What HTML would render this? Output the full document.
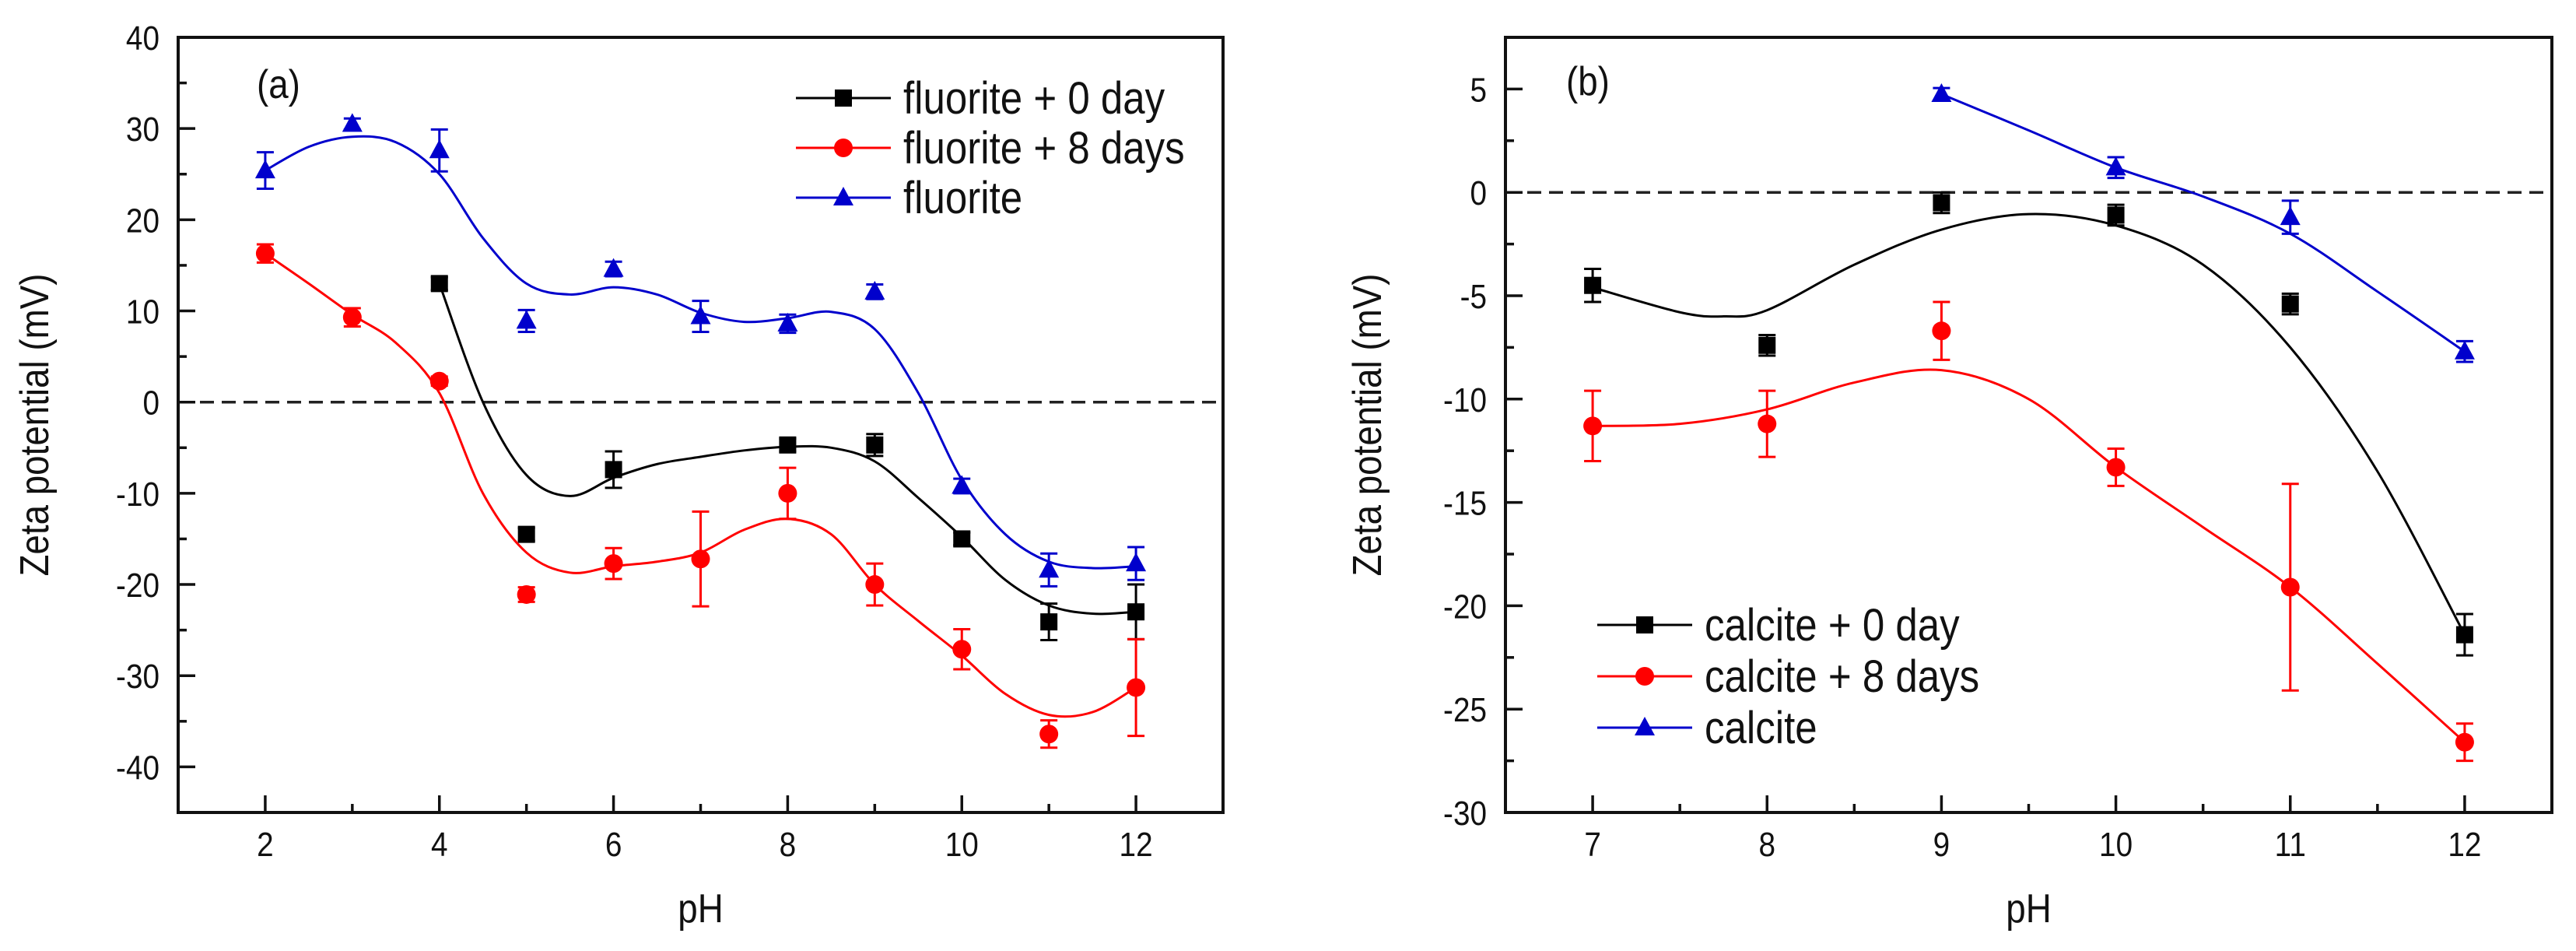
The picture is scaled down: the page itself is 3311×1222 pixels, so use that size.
<!DOCTYPE html>
<html><head><meta charset="utf-8"><style>
html,body{margin:0;padding:0;background:#fff;}
svg{display:block;font-family:"Liberation Sans",Arial,sans-serif;}
</style></head><body>
<svg id="fig" width="3311" height="1222" viewBox="0 0 3311 1222" xmlns="http://www.w3.org/2000/svg"></svg>
<script>
// ---------- Panel (a) data ----------
const aPH = [2,3,4,5,6,7,8,9,10,11,12];
const aBlack = [null,null,13.0,-14.5,-7.4,null,-4.7,-4.7,-15.0,-24.1,-23.0];
const aBlackErr = [0,0,0.7,0.7,2.0,0,0.7,1.2,0.7,2.0,3.0];
const aRed = [16.3,9.3,2.3,-21.1,-17.7,-17.2,-10.0,-20.0,-27.1,-36.4,-31.3];
const aRedErr = [1.0,1.0,0.5,0.8,1.7,5.2,2.8,2.3,2.2,1.5,5.3];
const aBlue = [25.4,30.5,27.6,8.9,14.6,9.4,8.6,12.1,-9.2,-18.4,-17.7];
const aBlueErr = [2.0,0.6,2.3,1.2,0.8,1.7,1.0,0.8,0.8,1.8,1.8];
const aFitX = [2,2.5,3,3.5,4,4.5,5,5.5,6,6.5,7,7.5,8,8.5,9,9.5,10,10.5,11,11.5,12];
const aFitBlue = [25.4,28,29.1,28.5,25,18,13,11.8,12.6,11.8,9.8,8.8,9.2,9.9,8,1,-8.5,-14.5,-17.5,-18.2,-18];
const aFitRed = [16.3,13,9.6,6.5,1,-10,-16.5,-18.7,-18,-17.5,-16.5,-14,-12.8,-14.5,-20,-24,-27.8,-32,-34.3,-34,-31.3];
const aFitBlackX = [4,4.5,5,5.5,6,6.5,7,7.5,8,8.5,9,9.5,10,10.5,11,11.5,12];
const aFitBlack = [13,0,-8,-10.3,-8.3,-6.8,-6,-5.3,-4.9,-5,-6.5,-10.5,-14.8,-19.5,-22.3,-23.2,-23];
const aXTicks = [2,4,6,8,10,12];
const aYTicks = [40,30,20,10,0,-10,-20,-30,-40];
// ---------- Panel (b) data ----------
const bPH = [7,8,9,10,11,12];
const bBlack = [-4.5,-7.4,-0.5,-1.1,-5.4,-21.4];
const bBlackErr = [0.8,0.5,0.5,0.5,0.5,1.0];
const bRed = [-11.3,-11.2,-6.7,-13.3,-19.1,-26.6];
const bRedErr = [1.7,1.6,1.4,0.9,5.0,0.9];
const bBlue = [null,null,4.75,1.2,-1.2,-7.7];
const bBlueErr = [0,0,0.3,0.5,0.8,0.5];
const bFitBlackX = [7,7.5,7.75,8,8.5,9,9.5,10,10.5,11,11.5,12];
const bFitBlack = [-4.6,-5.8,-6,-5.7,-3.5,-1.8,-1.05,-1.6,-3.5,-7.5,-13.5,-21.4];
const bFitRedX = [7,7.5,8,8.5,9,9.5,10,10.5,11,11.5,12];
const bFitRed = [-11.3,-11.2,-10.5,-9.2,-8.6,-10,-13.3,-16.2,-19.1,-22.8,-26.6];
const bFitBlueX = [9,9.5,10,10.5,11,11.5,12];
const bFitBlue = [4.75,3.0,1.2,-0.2,-2.0,-4.8,-7.7];
const bXTicks = [7,8,9,10,11,12];
const bYTicks = [5,0,-5,-10,-15,-20,-25,-30];

const NS = "http://www.w3.org/2000/svg";
const svg = document.getElementById('fig');
function el(tag, attrs, parent){
  const e = document.createElementNS(NS, tag);
  for (const k in attrs) e.setAttribute(k, attrs[k]);
  (parent||svg).appendChild(e);
  return e;
}
function txt(parent, x, y, s, size, anchor, rot){
  const t = el('text', {x:0, y:0, 'font-size':size, 'text-anchor':anchor||'middle', fill:'#111',
    transform:`translate(${x},${y}) ${rot?'rotate('+rot+')':''} scale(0.88,1)`}, parent);
  t.textContent = s;
  return t;
}
function catmull(pts){
  let d = `M${pts[0][0]},${pts[0][1]}`;
  for (let i=0;i<pts.length-1;i++){
    const p0 = pts[i-1]||pts[i], p1 = pts[i], p2 = pts[i+1], p3 = pts[i+2]||pts[i+1];
    const c1x = p1[0]+(p2[0]-p0[0])/6, c1y = p1[1]+(p2[1]-p0[1])/6;
    const c2x = p2[0]-(p3[0]-p1[0])/6, c2y = p2[1]-(p3[1]-p1[1])/6;
    d += ` C${c1x},${c1y} ${c2x},${c2y} ${p2[0]},${p2[1]}`;
  }
  return d;
}
function marker(g, shape, cx, cy, color){
  let m;
  if (shape==='square') m = el('rect',{x:cx-11,y:cy-11,width:22,height:22,fill:color},g);
  else if (shape==='circle') m = el('circle',{cx:cx,cy:cy,r:12,fill:color},g);
  else m = el('polygon',{points:`${cx},${cy-14} ${cx+13},${cy+10} ${cx-13},${cy+10}`,fill:color},g);
  return m;
}

function panel(cfg){
  const g = el('g', {});
  
  
  const X = v => cfg.x0 + (v - cfg.xmin) * (cfg.x1 - cfg.x0) / (cfg.xmax - cfg.xmin);
  const Y = v => cfg.y0 + (cfg.ymax - v) * (cfg.y1 - cfg.y0) / (cfg.ymax - cfg.ymin);
  // zero line
  const z = el('line',{x1:cfg.x0,x2:cfg.x1,y1:Y(0),y2:Y(0),stroke:'#222','stroke-width':3.5,'stroke-dasharray':'18 10'},g);
  
  
  // ticks
  const tg = el('g',{stroke:'#111','stroke-width':3.5},g);
  for (let v=cfg.xmin; v<=cfg.xmax+1e-9; v+=cfg.xMinor){
    const major = cfg.xTicks.some(t=>Math.abs(t-v)<1e-6);
    if (Math.abs(v-cfg.xmin)<1e-6 || Math.abs(v-cfg.xmax)<1e-6) continue;
    el('line',{x1:X(v),x2:X(v),y1:cfg.y1,y2:cfg.y1-(major?22:11)},tg);
  }
  for (let v=cfg.ymin; v<=cfg.ymax+1e-9; v+=cfg.yMinor){
    const major = cfg.yTicks.some(t=>Math.abs(t-v)<1e-6);
    if (Math.abs(v-cfg.ymax)<1e-6) continue;
    el('line',{x1:cfg.x0,x2:cfg.x0+(major?22:11),y1:Y(v),y2:Y(v)},tg);
  }
  cfg.xTicks.forEach(v=>{
    const t = txt(g, X(v), cfg.y1+56, String(v), 44);
    
    
  });
  cfg.yTicks.forEach(v=>{
    const t = txt(g, cfg.x0-24, Y(v)+16, String(v), 44, 'end');
    
    
  });
  // frame
  const fr = el('rect',{x:cfg.x0,y:cfg.y0,width:cfg.x1-cfg.x0,height:cfg.y1-cfg.y0,fill:'none',stroke:'#111','stroke-width':4},g);
  
  
  // series
  cfg.series.forEach(s=>{
    const sg = el('g',{},g);
    
    
    const pts = s.fitX.map((x,i)=>[X(x),Y(s.fit[i])]);
    const p = el('path',{d:catmull(pts),fill:'none',stroke:s.color,'stroke-width':3},sg);
    
    
    cfg.xs.forEach((x,i)=>{
      const v = s.vals[i];
      if (v===null) return;
      const e = s.err[i];
      if (e>0){
        const eg = el('g',{stroke:s.color,'stroke-width':3},sg);
        
        
        el('line',{x1:X(x),x2:X(x),y1:Y(v+e),y2:Y(v-e)},eg);
        el('line',{x1:X(x)-11,x2:X(x)+11,y1:Y(v+e),y2:Y(v+e)},eg);
        el('line',{x1:X(x)-11,x2:X(x)+11,y1:Y(v-e),y2:Y(v-e)},eg);
      }
      const m = marker(sg, s.shape, X(x), Y(v), s.color);
      
      
    });
  });
  // titles
  const xt = txt(g, (cfg.x0+cfg.x1)/2, 1185, 'pH', 52);
  
  
  const yt = txt(g, cfg.ytx, (cfg.y0+cfg.y1)/2, 'Zeta potential (mV)', 52, 'middle', -90);
  
  
  const pl = txt(g, cfg.labX, cfg.labY, cfg.label, 52, 'start');
  
  
  // legend
  const lg = el('g',{},g);
  
  
  cfg.series.forEach((s,i)=>{
    const ly = cfg.legY + i*cfg.legDy;
    const eg = el('g',{},lg);
    
    
    el('line',{x1:cfg.legX,x2:cfg.legX+122,y1:ly,y2:ly,stroke:s.color,'stroke-width':3},eg);
    marker(eg, s.shape, cfg.legX+61, ly, s.color);
    txt(eg, cfg.legX+138, ly+20, s.label, 58, 'start');
  });
}

panel({name:'panel-a-fluorite', x0:229,x1:1572,y0:48,y1:1044,xmin:1,xmax:13,ymin:-45,ymax:40,
  xMinor:1,yMinor:5,xTicks:aXTicks,yTicks:aYTicks,xs:aPH,ytx:62,label:'(a)',labX:330,labY:126,
  legX:1023,legY:126,legDy:64,
  series:[
    {name:'series-fluorite-0-day',label:'fluorite + 0 day',color:'#000',shape:'square',vals:aBlack,err:aBlackErr,fitX:aFitBlackX,fit:aFitBlack},
    {name:'series-fluorite-8-days',label:'fluorite + 8 days',color:'#f00',shape:'circle',vals:aRed,err:aRedErr,fitX:aFitX,fit:aFitRed},
    {name:'series-fluorite',label:'fluorite',color:'#0000cc',shape:'triangle',vals:aBlue,err:aBlueErr,fitX:aFitX,fit:aFitBlue}
  ]});
panel({name:'panel-b-calcite', x0:1935,x1:3280,y0:48,y1:1044,xmin:6.5,xmax:12.5,ymin:-30,ymax:7.5,
  xMinor:0.5,yMinor:2.5,xTicks:bXTicks,yTicks:bYTicks,xs:bPH,ytx:1775,label:'(b)',labX:2013,labY:122,
  legX:2053,legY:803,legDy:66,
  series:[
    {name:'series-calcite-0-day',label:'calcite + 0 day',color:'#000',shape:'square',vals:bBlack,err:bBlackErr,fitX:bFitBlackX,fit:bFitBlack},
    {name:'series-calcite-8-days',label:'calcite + 8 days',color:'#f00',shape:'circle',vals:bRed,err:bRedErr,fitX:bFitRedX,fit:bFitRed},
    {name:'series-calcite',label:'calcite',color:'#0000cc',shape:'triangle',vals:bBlue,err:bBlueErr,fitX:bFitBlueX,fit:bFitBlue}
  ]});
</script>
</body></html>
